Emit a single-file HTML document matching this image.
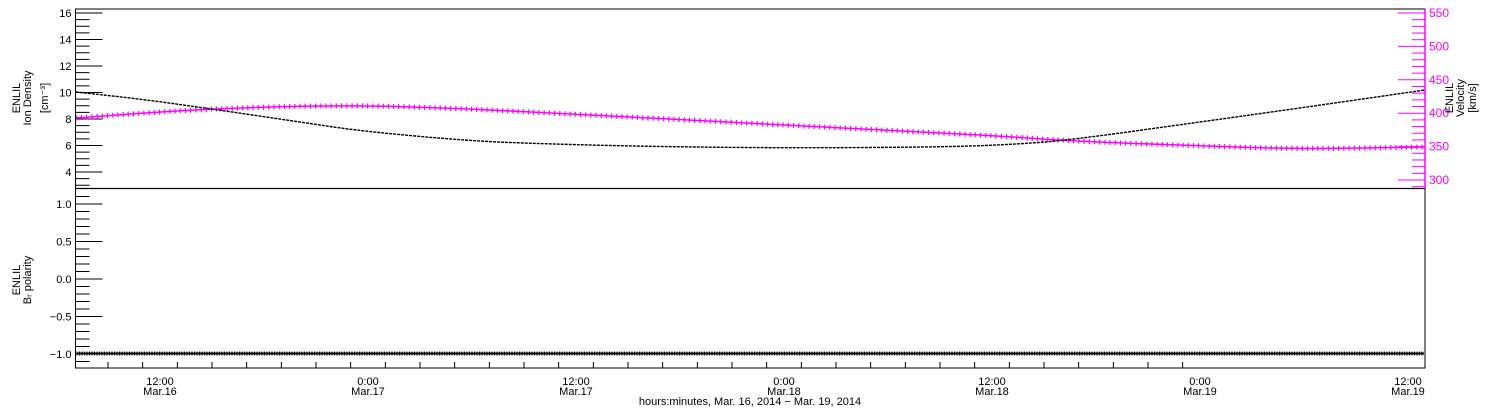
<!DOCTYPE html>
<html><head><meta charset="utf-8">
<style>
html,body{margin:0;padding:0;background:#fff;}
svg{display:block;font-family:"Liberation Sans",sans-serif;}
</style></head>
<body>
<svg id="s" width="1500" height="410" viewBox="0 0 1500 410" xmlns="http://www.w3.org/2000/svg">
<rect x="0" y="0" width="1500" height="410" fill="#fff"/>
<g id="g"></g>
</svg>
<script>
const NS="http://www.w3.org/2000/svg",g=document.getElementById('g');
function el(t,a,txt){const e=document.createElementNS(NS,t);for(const k in a)e.setAttribute(k,a[k]);if(txt!==undefined)e.textContent=txt;g.appendChild(e);return e;}
function line(x1,y1,x2,y2,c,w){el('line',{x1,y1,x2,y2,stroke:c||'#000','stroke-width':w||1});}
function text(x,y,s,o){o=o||{};el('text',Object.assign({x,y,'font-size':11,fill:'#000'},o),s);}
const L=75.5,R=1425,T=9,M=188.5,B=368;
el('rect',{x:L,y:T,width:R-L,height:B-T,fill:'none',stroke:'#000','stroke-width':1});
line(L,M,R,M,'#000',1.2);
const dy=v=>13+(16-v)*13.25;
for(let v=3;v<=16.01;v+=0.5){const y=dy(v);if(y>M-1)continue;const maj=Math.abs(v-Math.round(v/2)*2)<1e-6;line(L,y,L+(maj?27:14),y);if(maj)text(L-4,y+4,String(v),{'text-anchor':'end'});}
const vy=v=>13+(550-v)*33.4/50;
line(R,T,R,M,'#ff00ff',1.5);
for(let v=290;v<=550;v+=10){const y=vy(v);if(y>M-1||y<T-6)continue;const maj=v%50==0;line(R-(maj?27:13),y,R,y,'#ff00ff',1);if(maj)text(R+4,y+4,String(v),{fill:'#ff00ff','font-size':12});}
const by=v=>279+(0-v)*75;
for(let i=-12;i<=12;i++){const v=i/10;const y=by(v);if(y<M+2||y>B-1)continue;const maj=i%5==0;line(L,y,L+(maj?27:14),y);if(maj)text(L-4,y+4,(v<0?'\u2212'+Math.abs(v).toFixed(1):v.toFixed(1)),{'text-anchor':'end'});}
const x0=160,ph=208/12;
for(let h=-5;h<=60;h+=2){const x=x0+h*ph;if(x<=L+1||x>=R-1)continue;const maj=h%12==0;line(x,B,x,B-(maj?12:6));}
const labs=[['12:00','Mar.16'],['0:00','Mar.17'],['12:00','Mar.17'],['0:00','Mar.18'],['12:00','Mar.18'],['0:00','Mar.19'],['12:00','Mar.19']];
labs.forEach((l,i)=>{const x=x0+i*208;text(x,385,l[0],{'text-anchor':'middle'});text(x,395,l[1],{'text-anchor':'middle'});});
text(750,405,'hours:minutes, Mar. 16, 2014 \u2212 Mar. 19, 2014',{'text-anchor':'middle'});
el('text',{transform:'translate(20,98) rotate(-90)','font-size':11,'text-anchor':'middle'},'ENLIL');
el('text',{transform:'translate(31,98) rotate(-90)','font-size':11,'text-anchor':'middle'},'Ion Density');
el('text',{transform:'translate(48,98) rotate(-90)','font-size':11,'text-anchor':'middle'},'[cm\u207B\u00B3]');
el('text',{transform:'translate(1453,98) rotate(-90)','font-size':11,'text-anchor':'middle'},'ENLIL');
el('text',{transform:'translate(1464,98) rotate(-90)','font-size':11,'text-anchor':'middle'},'Velocity');
el('text',{transform:'translate(1476,98) rotate(-90)','font-size':11,'text-anchor':'middle'},'[km/s]');
el('text',{transform:'translate(20,280) rotate(-90)','font-size':11,'text-anchor':'middle'},'ENLIL');
el('text',{transform:'translate(31,280) rotate(-90)','font-size':11,'text-anchor':'middle'},'B\u1D63 polarity');
const blk=[[76,92],[140,99],[205,108],[300,122],[360,131],[470,141],[550,144],[650,146.5],[785,148],[950,147],[1020,144],[1070,140],[1200,122],[1300,108],[1425,90]];
const mag=[[76,118],[200,109],[340,105],[450,108],[550,113],[650,118],[785,125],[900,131],[1000,136],[1070,141],[1200,146],[1300,149],[1425,147]];
function path(p){let d='M'+p[0][0]+','+p[0][1];for(let i=1;i<p.length;i++){const a=p[i-1],b=p[i],c=(a[0]+b[0])/2;d+=' Q'+a[0]+','+a[1]+' '+c+','+(a[1]+b[1])/2;}d+=' L'+p[p.length-1][0]+','+p[p.length-1][1];return d;}
el('path',{d:path(mag),fill:'none',stroke:'#ff00ff','stroke-width':1.5});
el('path',{d:path(mag),fill:'none',stroke:'#ff00ff','stroke-width':5,'stroke-dasharray':'1.2 4'});
el('path',{d:path(blk),fill:'none',stroke:'#000','stroke-width':1.4,'stroke-dasharray':'3 1'});
line(L+1,353.5,R-1,353.5,'#000',2);
el('line',{x1:L+1,y1:353.5,x2:R-1,y2:353.5,stroke:'#000','stroke-width':4,'stroke-dasharray':'1 1.5'});
</script>
</body></html>
